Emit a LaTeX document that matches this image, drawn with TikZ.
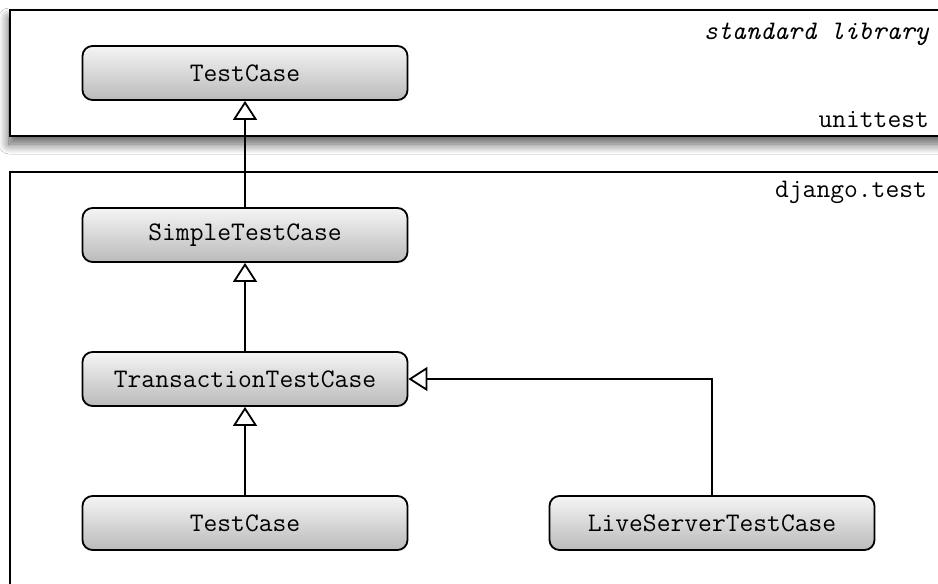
\documentclass[tikz,border=0pt]{standalone}
\usetikzlibrary{arrows.meta, shadows.blur, positioning}

\begin{document}
\begin{tikzpicture}[x=0.5pt, y=-0.5pt,
	cls/.style={draw, line width=0.9pt, rounded corners=5pt,
	top color=black!4, bottom color=black!27, minimum width=162.5pt,
	minimum height=27pt, font=\ttfamily\fontsize{13.4}{15}\selectfont},
	pkg/.style={draw, line width=1pt, fill=white},
	lbl/.style={anchor=east, font=\ttfamily\fontsize{13.4}{15}\selectfont},
	inh/.style={line width=0.9pt,
	-{Triangle[open, width=12pt, length=9.5pt, line width=0.9pt]}}]
\clip (0, 0) rectangle (938, 584);
\fill[white] (0, 0) rectangle (938, 584);
% packages
\draw[pkg, blur shadow={shadow xshift=-0.5pt, shadow yshift=-4pt,
	shadow blur radius=5pt, shadow blur steps=12, shadow opacity=65}]
	(10, 10) rectangle (980, 136);
\draw[pkg] (10, 172) rectangle (980, 620);
\node[lbl] (std) at (936, 34) {\itshape standard library};
\node[lbl] (ut) at (936, 120) {unittest};
\node[lbl] (dj) at (934, 192) {django.test};
% classes
\node[cls] (0) at (245, 73) {TestCase};
\node[cls] (1) at (245, 235) {SimpleTestCase};
\node[cls] (2) at (245, 379) {TransactionTestCase};
\node[cls] (3) at (245, 523) {TestCase};
\node[cls] (4) at (712, 523) {LiveServerTestCase};
\draw[inh] (1) to (0);
\draw[inh] (2) to (1);
\draw[inh] (3) to (2);
\draw[inh] (4.north) |- (2.east);
\end{tikzpicture}
\end{document}
